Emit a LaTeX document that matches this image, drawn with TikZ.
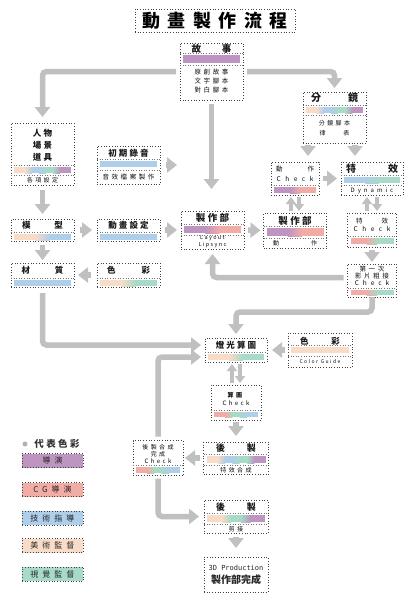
\documentclass[tikz,border=0pt]{standalone}
\usepackage{fontspec}
\setmainfont{Noto Sans CJK TC}
\newfontfamily\ttl[LetterSpace=42]{Noto Sans CJK TC}
\newfontfamily\hdf[LetterSpace=25]{Noto Sans CJK TC}
\newfontfamily\spc[LetterSpace=40]{Noto Sans CJK TC}
\newfontfamily\lgf[LetterSpace=50]{Noto Sans CJK TC}
\newfontfamily\monof{DejaVu Sans Mono}
\usetikzlibrary{arrows.meta}

\definecolor{dirc}{RGB}{190,148,192}
\definecolor{cgc}{RGB}{242,172,166}
\definecolor{techc}{RGB}{174,206,234}
\definecolor{artc}{RGB}{248,220,200}
\definecolor{visc}{RGB}{168,218,200}
\definecolor{arrowgray}{RGB}{192,192,192}

\tikzset{
  box/.style={draw=black!75, dotted, line width=0.7pt, inner sep=0pt, outer sep=0pt},
  hd/.style={font=\hdf\bfseries\fontsize{9.5}{10}\selectfont, text=black!90, inner sep=0pt},
  sub/.style={font=\spc\fontsize{6.5}{8}\selectfont, text=black!95, inner sep=0pt, align=center},
  flow/.style={draw=arrowgray, line width=5.5pt, -{Triangle[width=15pt,length=10pt]}, rounded corners=4pt},
  pair/.style={draw=arrowgray, line width=3.5pt, -{Triangle[width=10pt,length=7pt]}, shorten <=2pt, shorten >=2pt},
  sepline/.style={draw=black!55, dotted, line width=0.6pt}
}

% two characters pushed to both ends of a given width
\newcommand{\spread}[3]{\makebox[#1]{#2\hfill#3}}

% colour bar: box left x, box right x, top y, bottom y, colours
\newcommand{\cbar}[5]{%
  \foreach \col [count=\k] in {#5}{\xdef\nseg{\k}}%
  \pgfmathsetmacro{\segw}{(#2-#1-6)/\nseg}%
  \draw[sepline] (#1,#3-2) -- (#2,#3-2);%
  \foreach \col [count=\k] in {#5}{%
    \fill[\col] ({#1+3+(\k-1)*\segw},#3) rectangle ({#1+3+\k*\segw},#4);}%
  \foreach \col [count=\k, remember=\col as \lastcol (initially white)] in {#5}{%
    \ifnum\k>1
      \shade[left color=\lastcol, right color=\col] ({#1+3+(\k-1.25)*\segw},#3) rectangle ({#1+3+(\k-0.75)*\segw},#4);%
    \fi}%
}

\begin{document}
\begin{tikzpicture}[x=1pt, y=-1pt]
\fill[white] (0,0) rectangle (416,600);
\useasboundingbox (0,0) rectangle (416,600);

% title
\node[box, minimum width=160pt, minimum height=23pt, font=\ttl\bfseries\fontsize{18}{18}\selectfont] (title) at (215,20.5) {動畫製作流程};

% story
\node[box, minimum width=63pt, minimum height=57pt] (story) at (211.5,71.5) {};
\node[hd] (story-h) at (211.5,49) {\spread{40pt}{故}{事}};
\cbar{180}{243}{55}{63}{dirc}
\draw[sepline] (180,65.5) -- (243,65.5);
\node[sub, font=\spc\fontsize{6.5}{9}\selectfont] (story-t) at (211.5,81) {原創故事\\文字腳本\\對白腳本};

% characters, scenes, props
\node[box, minimum width=63pt, minimum height=62pt] (chars) at (42.5,154) {};
\node[hd, font=\hdf\bfseries\fontsize{8.5}{12}\selectfont, align=center] (chars-h) at (42.5,145) {人物\\場景\\道具};
\cbar{11}{74}{167}{173}{artc,techc,visc,dirc}
\draw[sepline] (11,175.5) -- (74,175.5);
\node[sub, font=\spc\fontsize{6}{8}\selectfont] (chars-t) at (42.5,180.5) {各項設定};

% early recording
\node[box, minimum width=63pt, minimum height=38pt] (rec) at (128.5,165) {};
\node[hd, font=\hdf\bfseries\fontsize{8.5}{10}\selectfont] (rec-h) at (128.5,153) {初期錄音};
\cbar{97}{160}{161}{167}{techc}
\draw[sepline] (97,170) -- (160,170);
\node[sub] (rec-t) at (128.5,177) {音效檔案製作};

% storyboard
\node[box, minimum width=63pt, minimum height=51pt] (sb) at (334.5,117.5) {};
\node[hd, font=\hdf\bfseries\fontsize{10}{10}\selectfont] (sb-h) at (334.5,98) {\spread{47pt}{分}{鏡}};
\cbar{303}{366}{107}{113}{artc,techc,visc,dirc}
\draw[sepline] (303,115.5) -- (366,115.5);
\node[sub, font=\spc\fontsize{6}{10}\selectfont] (sb-t) at (334.5,128) {分鏡腳本\\\spread{30pt}{律}{表}};

% action check
\node[box, minimum width=48pt, minimum height=33pt] (actchk) at (295,178.5) {};
\node[sub, font=\spc\fontsize{6.5}{10}\selectfont] (actchk-t) at (295,173.5) {\spread{38pt}{動}{作}\\{\addfontfeature{LetterSpace=70}Check}};
\cbar{271}{319}{187}{193}{dirc,cgc}

% effects
\node[box, minimum width=62pt, minimum height=33pt] (fx) at (372,178.5) {};
\node[hd, font=\hdf\bfseries\fontsize{10}{10}\selectfont] (fx-h) at (372,169) {\spread{52pt}{特}{效}};
\cbar{341}{403}{177}{183}{techc,visc}
\draw[sepline] (341,185.5) -- (403,185.5);
\node[sub, font=\spc\fontsize{6}{8}\selectfont\addfontfeature{LetterSpace=50}] (fx-t) at (372,190.5) {Dynamic};

% model
\node[box, minimum width=63pt, minimum height=22pt] (model) at (42.5,230) {};
\node[hd, font=\hdf\bfseries\fontsize{8.5}{10}\selectfont] (model-h) at (42.5,225.5) {\spread{41pt}{模}{型}};
\cbar{11}{74}{234}{240}{artc,techc}

% animation setting
\node[box, minimum width=63pt, minimum height=22pt] (anim) at (128.5,230) {};
\node[hd, font=\hdf\bfseries\fontsize{8.5}{10}\selectfont] (anim-h) at (128.5,225.5) {動畫設定};
\cbar{97}{160}{234}{240}{techc}

% production, layout
\node[box, minimum width=63pt, minimum height=38pt] (layout) at (212.5,230) {};
\node[hd, font=\hdf\bfseries\fontsize{9.5}{10}\selectfont] (layout-h) at (212.5,217.5) {製作部};
\cbar{181}{244}{226}{233}{dirc,cgc}
\draw[sepline] (181,235.5) -- (244,235.5);
\node[sub, font=\spc\fontsize{5.5}{6.5}\selectfont\addfontfeature{LetterSpace=25}] (layout-t) at (212.5,241.5) {Layout\\Lipsync};

% production, action
\node[box, minimum width=63pt, minimum height=35pt] (mk2) at (295,230.5) {};
\node[hd, font=\hdf\bfseries\fontsize{9.5}{10}\selectfont] (mk2-h) at (295,221) {製作部};
\cbar{263.5}{326.5}{228}{236}{dirc,cgc}
\draw[sepline] (263.5,238.5) -- (326.5,238.5);
\node[sub, font=\spc\fontsize{6}{8}\selectfont] (mk2-t) at (295,243.5) {\spread{44pt}{動}{作}};

% effects check
\node[box, minimum width=49pt, minimum height=34pt] (fxchk) at (372,230) {};
\node[sub, font=\spc\fontsize{6.5}{8}\selectfont] (fxchk-t) at (372,225) {\spread{32pt}{特}{效}\\{\addfontfeature{LetterSpace=70}Check}};
\cbar{347.5}{396.5}{238}{244}{cgc,visc}

% first rough cut
\node[box, minimum width=49pt, minimum height=33pt] (first) at (372,280.5) {};
\node[sub, font=\spc\fontsize{6.5}{7.2}\selectfont] (first-t) at (372,276) {第一次\\影片粗接\\{\addfontfeature{LetterSpace=60}Check}};
\cbar{347.5}{396.5}{290}{295}{cgc,visc}

% material
\node[box, minimum width=63pt, minimum height=24pt] (material) at (42.5,275) {};
\node[hd, font=\hdf\bfseries\fontsize{8.5}{10}\selectfont] (material-h) at (42.5,270.5) {\spread{42pt}{材}{質}};
\cbar{11}{74}{280}{286}{techc}

% colour
\node[box, minimum width=63pt, minimum height=24pt] (color1) at (128.5,275) {};
\node[hd, font=\hdf\bfseries\fontsize{8.5}{10}\selectfont] (color1-h) at (128.5,270.5) {\spread{43pt}{色}{彩}};
\cbar{97}{160}{280}{286}{artc,visc}

% lighting and rendering
\node[box, minimum width=62pt, minimum height=24pt] (light) at (236,350) {};
\node[hd, font=\hdf\bfseries\fontsize{8.5}{10}\selectfont] (light-h) at (236,345.5) {燈光算圖};
\cbar{205}{267}{354}{360}{artc,visc}

% colour guide
\node[box, minimum width=64pt, minimum height=34pt] (cg) at (320,350) {};
\node[hd, font=\hdf\bfseries\fontsize{8.5}{10}\selectfont] (cg-h) at (320,341) {\spread{40pt}{色}{彩}};
\cbar{288}{352}{347}{353}{artc}
\draw[sepline] (288,356) -- (352,356);
\node[sub, font=\spc\fontsize{5}{6}\selectfont\addfontfeature{LetterSpace=30}] (cg-t) at (320,362) {Color Guide};

% render check
\node[box, minimum width=50pt, minimum height=35pt] (rchk) at (236,402.5) {};
\node[sub, font=\spc\fontsize{6}{8}\selectfont] (rchk-t) at (236,399) {\textbf{算圖}\\Check};
\cbar{211}{261}{412}{417}{cgc,visc,techc}

% post, effects compositing
\node[box, minimum width=65pt, minimum height=32pt] (post1) at (236,458) {};
\node[hd, font=\hdf\bfseries\fontsize{9}{10}\selectfont] (post1-h) at (236,448) {\spread{40pt}{後}{製}};
\cbar{203.5}{268.5}{456}{463}{artc,techc,visc,dirc}
\draw[sepline] (203.5,465.5) -- (268.5,465.5);
\node[sub, font=\spc\fontsize{6}{8}\selectfont] (post1-t) at (236,470.5) {特效合成};

% post compositing check
\node[box, minimum width=50pt, minimum height=35pt] (pchk) at (158,458) {};
\node[sub, font=\spc\fontsize{6}{7}\selectfont] (pchk-t) at (158,454) {後製合成\\完成\\Check};
\cbar{133}{183}{467}{473}{cgc,visc,techc}

% post, editing
\node[box, minimum width=64pt, minimum height=33pt] (post2) at (236,516.5) {};
\node[hd, font=\hdf\bfseries\fontsize{9}{10}\selectfont] (post2-h) at (236,507) {\spread{40pt}{後}{製}};
\cbar{204}{268}{515}{522}{artc,visc,dirc}
\draw[sepline] (204,524.5) -- (268,524.5);
\node[sub, font=\spc\fontsize{6}{8}\selectfont] (post2-t) at (236,529.5) {剪接};

% finished
\node[box, minimum width=64pt, minimum height=35pt] (final) at (236,574.5) {};
\node[inner sep=0pt, font=\monof\fontsize{7}{8}\selectfont, text=black!85] (final-t1) at (236,568) {3D Production};
\node[inner sep=0pt, font=\bfseries\fontsize{10}{12}\selectfont, text=black!85] (final-t2) at (236,580) {製作部完成};

% legend
\fill[black!30] (25,444) circle (2.5pt);
\node[hd, font=\hdf\bfseries\fontsize{9.5}{10}\selectfont, text=black!80] (legend) at (57,444) {代表色彩};
\foreach \col/\lbl/\yy [count=\k] in {dirc/導演/460.5, cgc/CG導演/489.5, techc/技術指導/518, artc/美術監督/545.5, visc/視覺監督/574}
  \node[box, fill=\col, minimum width=61pt, minimum height=14pt, text=black!85, font=\lgf\fontsize{8}{9}\selectfont] (leg-\k) at (52.5,\yy) {\lbl};

% connectors
\draw[flow, shorten <=4pt, shorten >=6pt] (story.west) -| (chars.north);
\draw[flow, shorten <=4pt, shorten >=4pt] (story.east) -| (sb.north);
\draw[flow, shorten <=4pt, shorten >=22pt] (story.south) -- (story.south |- layout.north);
\draw[flow, shorten <=5pt, shorten >=5pt] (chars.south) -- (model.north);
\draw[flow, shorten <=6pt, shorten >=5pt] (model.east) -- (anim.west);
\draw[flow, shorten <=5pt, shorten >=4pt] (anim.east) -- (layout.west);
\draw[flow, shorten <=6pt, shorten >=4pt] (rec.east) -- (rec.east -| layout.west);
\draw[flow, shorten <=4pt, shorten >=3pt] (model.south) -- (material.north);
\draw[flow, shorten <=6pt, shorten >=4pt] (color1.west) -- (material.east);
\draw[flow, shorten <=6pt, shorten >=4pt] (material.south) |- ([yshift=5pt]light.west);
\draw[flow, shorten <=4pt, shorten >=4pt] (pchk.north) |- ([yshift=-7pt]light.west);
\draw[flow, shorten <=4pt, shorten >=3pt] (layout.east) -- (mk2.west);
\draw[flow, shorten <=2pt, shorten >=6pt] ([xshift=-26.5pt]sb.south) -- ([xshift=13pt]actchk.north);
\draw[flow, shorten <=2pt, shorten >=6pt] ([xshift=20.5pt]sb.south) -- ([xshift=-17pt]fx.north);
\draw[flow, shorten <=4pt, shorten >=4pt] (actchk.east) -- (fx.west);
\draw[pair] ([xshift=-4pt]mk2.north) -- ([xshift=-4pt]actchk.south);
\draw[pair] ([xshift=4pt]actchk.south) -- ([xshift=4pt]mk2.north);
\draw[pair] ([xshift=-5pt]fxchk.north) -- ([xshift=-5pt]fx.south);
\draw[pair] ([xshift=5pt]fx.south) -- ([xshift=5pt]fxchk.north);
\draw[flow, shorten <=3pt, shorten >=2pt] (fxchk.south) -- (first.north);
\draw[flow, shorten <=4pt, shorten >=5pt] ([yshift=3pt]first.west) -| (layout.south);
\draw[flow, shorten >=4pt] (first.south) -- ++(0,15) -| (light.north);
\draw[flow, shorten <=3pt, shorten >=5pt] (cg.west) -- (light.east);
\draw[pair] ([xshift=-4pt]rchk.north) -- ([xshift=-4pt]light.south);
\draw[pair] ([xshift=4pt]light.south) -- ([xshift=4pt]rchk.north);
\draw[flow, shorten <=2pt, shorten >=6pt] (rchk.south) -- (post1.north);
\draw[flow, shorten <=4pt, shorten >=2pt] (post1.west) -- (pchk.east);
\draw[flow, shorten <=3pt, shorten >=5pt] (pchk.south) |- (post2.west);
\draw[flow, shorten <=4pt, shorten >=9pt] (post2.south) -- (final.north);
\end{tikzpicture}
\end{document}
